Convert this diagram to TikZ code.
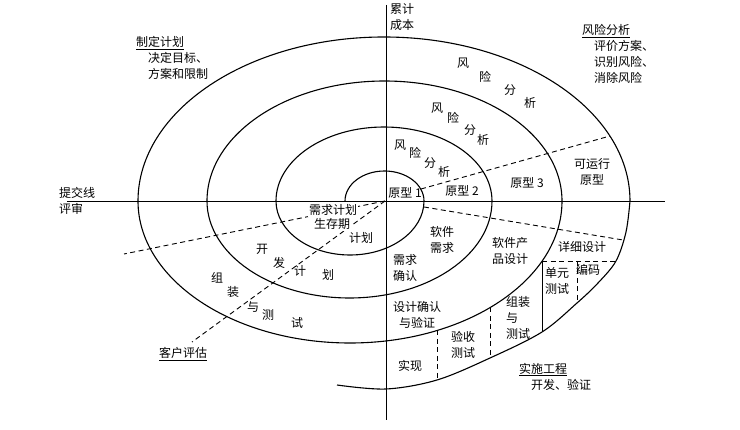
\documentclass[tikz,border=0pt]{standalone}
\usepackage{fontspec}
\setmainfont{Noto Sans CJK SC}

\begin{document}
\begin{tikzpicture}[
  x=1pt, y=-1pt,
  spiral/.style={line width=1.1pt},
  axis/.style={line width=0.9pt},
  guide/.style={line width=0.9pt, dash pattern=on 5pt off 3.5pt},
  lbl/.style={font=\fontsize{12}{16}\selectfont, inner sep=1pt, align=center},
  block/.style={lbl, align=left, anchor=west},
  cut/.style={lbl, fill=white}
  ]

   \useasboundingbox (0,0) rectangle (740,430);

   % axes
   \coordinate (axL) at (67,201);
   \coordinate (axR) at (665,201);
   \coordinate (axT) at (386,5);
   \coordinate (axB) at (386,420);
   \draw [axis] (axL) -- (axR);
   \draw [axis] (axT) -- (axB);

   % spiral
   \draw [spiral] (345,201)
      arc[start angle=180, end angle=0, x radius=39.5pt, y radius=30pt]
      arc[start angle=0, end angle=-180, x radius=74pt, y radius=54pt]
      arc[start angle=180, end angle=0, x radius=108pt, y radius=74pt]
      arc[start angle=0, end angle=-180, x radius=142.5pt, y radius=97pt]
      arc[start angle=180, end angle=0, x radius=177.5pt, y radius=120pt]
      arc[start angle=0, end angle=-180, x radius=212pt, y radius=142pt]
      arc[start angle=180, end angle=0, x radius=246pt, y radius=164pt]
      plot[smooth, tension=0.55] coordinates {(630,201) (626,232) (616,261) (598,283)
        (577,303) (542,332) (490,358) (437,380) (386,389) (337,385)};

   % sector lines
   \coordinate (o) at (385,201);
   \coordinate (p1) at (421,189);
   \coordinate (p2) at (610,136);
   \coordinate (q1) at (424,207);
   \coordinate (q2) at (623,240);
   \coordinate (r3) at (124,254);
   \coordinate (r4) at (192,342);
   \draw [guide] (p1) -- (p2);
   \draw [guide] (q1) -- (q2);
   \draw [guide] (o) -- (r3);
   \draw [guide] (o) -- (r4);

   % steps of the last turn
   \coordinate (s1) at (437,330.5);
   \coordinate (t1) at (437,380);
   \coordinate (s2) at (490,307.5);
   \coordinate (t2) at (490,358);
   \coordinate (s3) at (542,261);
   \coordinate (t3) at (542,332);
   \coordinate (u1) at (616,261);
   \coordinate (u2) at (577,261);
   \coordinate (u3) at (577,303);
   \draw [guide] (s1) -- (t1);
   \draw [guide] (s2) -- (t2);
   \draw [axis] (s3) -- (t3);
   \draw [guide] (s3) -- (u1);
   \draw [guide] (u2) -- (u3);

   % quadrant titles
   \node (cost) [lbl, align=left] at (402,17.5) {累计\\成本};
   \node (review) [block] at (58,201) {提交线\\评审};
   \node (plan) [block] at (135,58) {\underline{制定计划}\\\quad 决定目标、\\\quad 方案和限制};
   \node (risk) [block] at (581,54) {\underline{风险分析}\\\quad 评价方案、\\\quad 识别风险、\\\quad 消除风险};
   \node (eng) [block] at (518,376.5) {\underline{实施工程}\\\quad 开发、验证};
   \node (client) [lbl] at (183,354) {\underline{客户评估}};

   % risk analysis, three turns
   \foreach \c/\x/\y [count=\i] in {风/463/63, 险/485/77, 分/510/90, 析/530/103,
       风/437/108, 险/453/118, 分/470/130, 析/483/140,
       风/400/145, 险/415/153, 分/430/163, 析/444/172}
     \node (risk\i) [lbl] at (\x,\y) {\c};

   % prototypes
   \node (proto1) [lbl] at (405,193) {原型 1};
   \node (proto2) [lbl] at (462,191) {原型 2};
   \node (proto3) [lbl] at (527,183) {原型 3};
   \node (proto4) [lbl] at (592,172) {可运行\\原型};

   % planning
   \node (reqplan) [cut] at (333,210) {需求计划};
   \node (life) [cut] at (332,224) {生存期};
   \node (lifeplan) [lbl] at (361,238) {计划};
   \foreach \c/\x/\y [count=\i] in {开/262/249, 发/279/263, 计/300/271, 划/328/275}
     \node (dev\i) [lbl] at (\x,\y) {\c};
   \foreach \c/\x/\y [count=\i] in {组/217/278, 装/233/292, 与/253/307, 测/268/315, 试/297/323}
     \node (asm\i) [lbl] at (\x,\y) {\c};

   % engineering
   \node (swreq) [lbl] at (442,240) {软件\\需求};
   \node (reqok) [lbl] at (405,268) {需求\\确认};
   \node (design) [lbl] at (510,251) {软件产\\品设计};
   \node (detail) [lbl] at (582,247) {详细设计};
   \node (unit) [lbl] at (557,281) {单元\\测试};
   \node (code) [lbl] at (588,270) {编码};
   \node (verify) [lbl] at (417,315) {设计确认\\与验证};
   \node (integ) [block] at (505,317.5) {组装\\与\\测试};
   \node (accept) [lbl] at (463,345) {验收\\测试};
   \node (impl) [lbl] at (410,366) {实现};

\end{tikzpicture}
\end{document}
